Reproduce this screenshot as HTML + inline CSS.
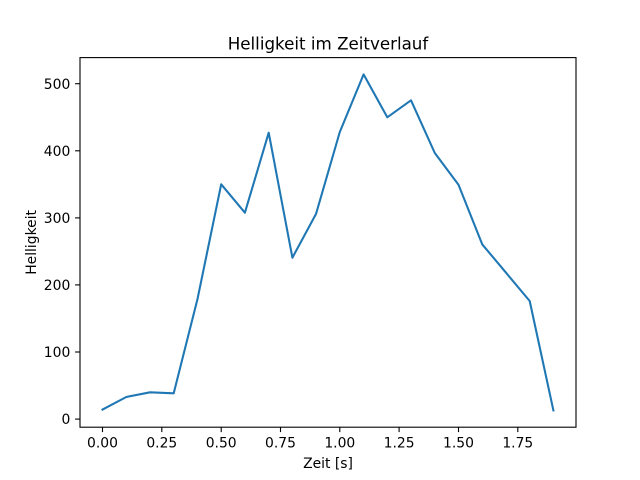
<!DOCTYPE html>
<html><head><meta charset="utf-8"><style>
html,body{margin:0;padding:0;background:#fff;}
svg{display:block;}
text{font-family:"DejaVu Sans","Liberation Sans",sans-serif;fill:#000;}
</style></head><body>
<svg width="640" height="480" viewBox="0 0 640 480" xmlns="http://www.w3.org/2000/svg">
<rect width="640" height="480" fill="#fff"/>
<polyline fill="none" stroke="#1f77b4" stroke-width="2.08" stroke-linejoin="round" stroke-linecap="square"
points="102.5,409.6 126.3,397 150,392.3 173.7,393.3 197.5,299 221.2,184.3 244.9,212.7 268.7,132.7 292.4,257.7 316.1,213.7 339.8,132 363.6,74.4 387.3,117.3 411,100.3 434.8,153 458.5,184.7 482.2,244.3 505.9,272.6 529.7,301 553.4,410.4"/>
<rect x="80" y="57.6" width="496" height="369.6" fill="none" stroke="#000" stroke-width="1.1"/>
<g stroke="#000" stroke-width="1.1">
<line x1="102.5" y1="427.2" x2="102.5" y2="432.1"/>
<line x1="161.8" y1="427.2" x2="161.8" y2="432.1"/>
<line x1="221.2" y1="427.2" x2="221.2" y2="432.1"/>
<line x1="280.5" y1="427.2" x2="280.5" y2="432.1"/>
<line x1="339.8" y1="427.2" x2="339.8" y2="432.1"/>
<line x1="399.1" y1="427.2" x2="399.1" y2="432.1"/>
<line x1="458.5" y1="427.2" x2="458.5" y2="432.1"/>
<line x1="517.8" y1="427.2" x2="517.8" y2="432.1"/>
<line x1="75.1" y1="419.1" x2="80" y2="419.1"/>
<line x1="75.1" y1="352" x2="80" y2="352"/>
<line x1="75.1" y1="284.9" x2="80" y2="284.9"/>
<line x1="75.1" y1="217.9" x2="80" y2="217.9"/>
<line x1="75.1" y1="150.8" x2="80" y2="150.8"/>
<line x1="75.1" y1="83.7" x2="80" y2="83.7"/>
</g>
<g font-size="13.9" text-anchor="middle">
<text x="102.5" y="447.5">0.00</text>
<text x="161.8" y="447.5">0.25</text>
<text x="221.2" y="447.5">0.50</text>
<text x="280.5" y="447.5">0.75</text>
<text x="339.8" y="447.5">1.00</text>
<text x="399.1" y="447.5">1.25</text>
<text x="458.5" y="447.5">1.50</text>
<text x="517.8" y="447.5">1.75</text>
</g>
<g font-size="13.9" text-anchor="end">
<text x="70.3" y="424.2">0</text>
<text x="70.3" y="357.1">100</text>
<text x="70.3" y="290">200</text>
<text x="70.3" y="223">300</text>
<text x="70.3" y="155.9">400</text>
<text x="70.3" y="88.8">500</text>
</g>
<text x="328" y="468" font-size="13.9" text-anchor="middle">Zeit [s]</text>
<text transform="translate(36,242.4) rotate(-90)" font-size="13.9" text-anchor="middle">Helligkeit</text>
<text x="328" y="49.3" font-size="16.7" text-anchor="middle">Helligkeit im Zeitverlauf</text>
</svg>
</body></html>
